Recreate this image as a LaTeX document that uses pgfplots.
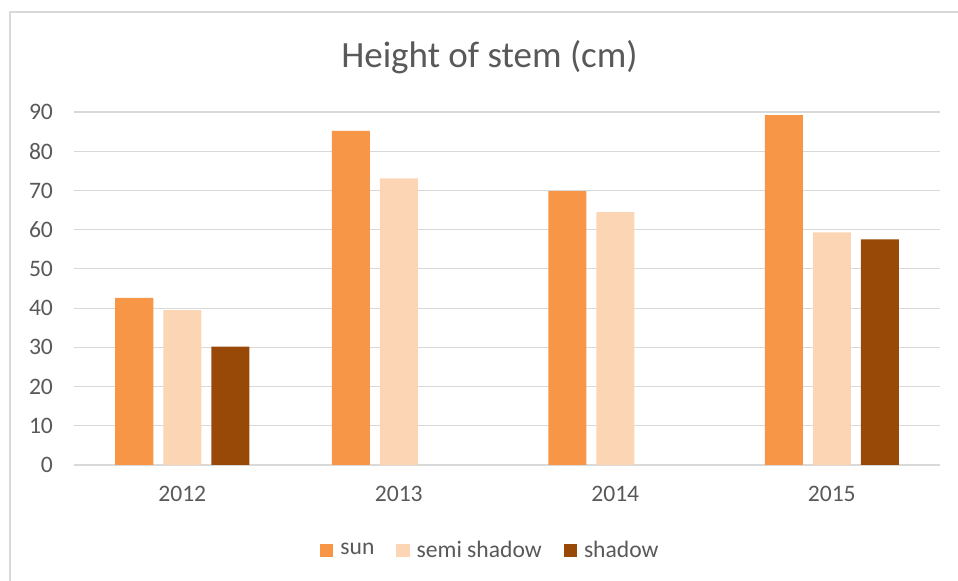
\documentclass[border=0pt]{standalone}
\usepackage{fontspec}
\setmainfont{Carlito}
\usepackage{pgfplots}
\pgfplotsset{compat=1.18}
\definecolor{sun}{HTML}{F79646}
\definecolor{semi}{HTML}{FCD5B5}
\definecolor{shadow}{HTML}{984807}
\definecolor{gridgray}{HTML}{D9D9D9}
\definecolor{txt}{HTML}{595959}
\begin{document}
\begin{tikzpicture}
\useasboundingbox (0,0) rectangle (479pt,290.5pt);
\draw[gridgray, line width=0.6pt] (5pt,-5pt) -- (5pt,284.5pt) -- (490pt,284.5pt);
\node[txt, font=\fontsize{18.5}{22}\selectfont] at (244.75pt,262pt) {Height of stem (cm)};
\begin{axis}[
    at={(37pt,58pt)}, anchor=south west,
    width=433pt, height=176.5pt, scale only axis,
    ybar, bar width=19pt,
    xmin=-0.5, xmax=3.5, ymin=0, ymax=90,
    xtick={0,1,2,3}, xticklabels={2012,2013,2014,2015},
    ytick={0,10,...,90},
    axis line style={draw=none},
    ymajorgrids, grid style={gridgray, line width=0.6pt},
    major tick length=0pt,
    tick label style={txt, font=\fontsize{11.8}{14}\selectfont},
    /pgf/number format/assume math mode=true,
    yticklabel style={xshift=-7pt},
    xticklabel style={yshift=-7pt},
    legend style={at={(0.482,-0.242)}, anchor=center, draw=none,
        font=\fontsize{11.8}{14}\selectfont, text=txt,
        legend columns=3,
        /tikz/every even column/.append style={column sep=9pt},
        /tikz/every odd column/.append style={column sep=1.5pt}},
    legend image code/.code={\fill[#1] (0pt,-3.3pt) rectangle (6.6pt,3.3pt);},
    extra y ticks={0}, extra y tick labels={},
    extra y tick style={grid style={gridgray, line width=0.8pt}},
  ]
  \addplot[fill=sun, draw=none, bar shift=-24pt] coordinates {(0,42.6) (1,85.2) (2,69.8) (3,89.2)};
  \addplot[fill=semi, draw=none, bar shift=0pt] coordinates {(0,39.5) (1,73.1) (2,64.5) (3,59.3)};
  \addplot[fill=shadow, draw=none, bar shift=24pt] coordinates {(0,30.2) (3,57.5)};
  \legend{sun, semi shadow, shadow}
\end{axis}
\end{tikzpicture}
\end{document}
